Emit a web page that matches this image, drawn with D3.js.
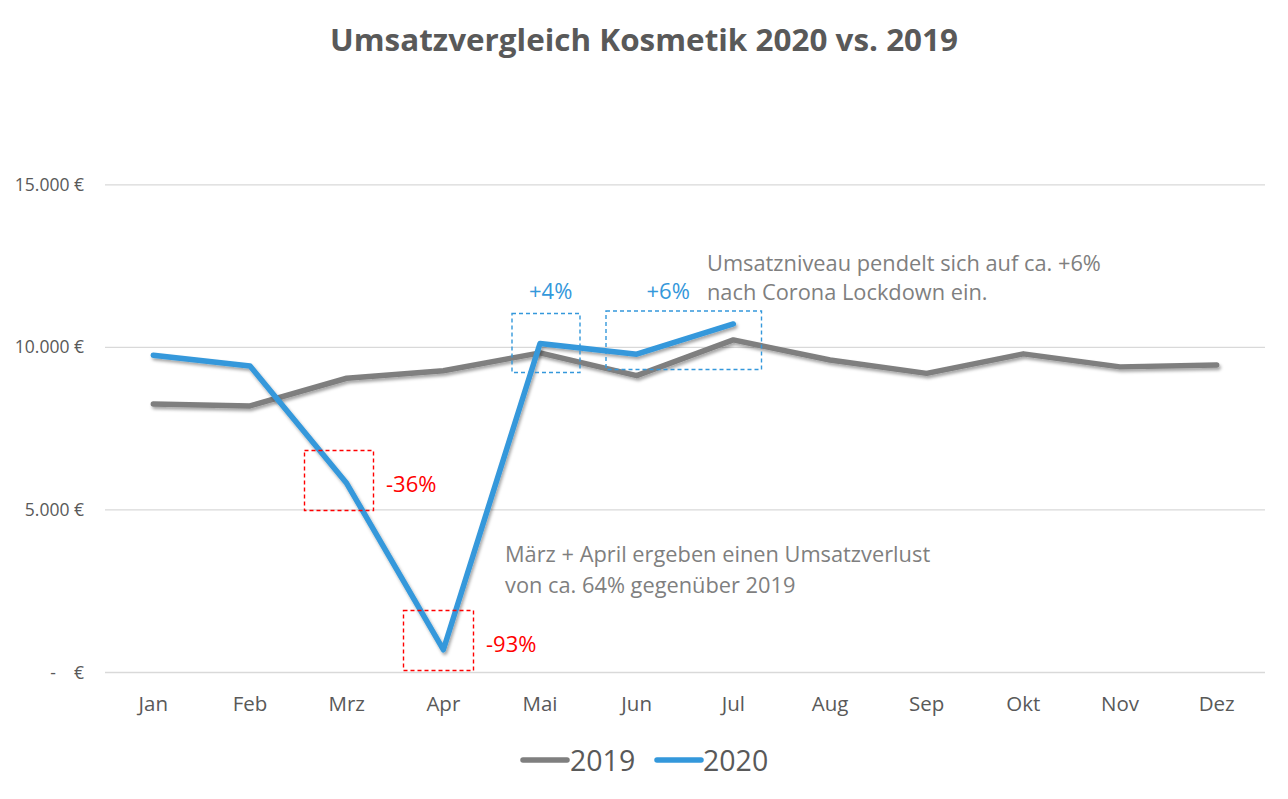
<!DOCTYPE html>
<html>
<head>
<meta charset="utf-8">
<script src="https://cdn.jsdelivr.net/npm/d3@7"></script>
<style>
  html, body { margin: 0; padding: 0; background: #ffffff; }
  svg { display: block; font-family: "Open Sans", "Noto Sans", sans-serif; }
</style>
</head>
<body>
<svg id="chart" width="1288" height="799"></svg>
<script>
// ---- data ----
const months = ["Jan","Feb","Mrz","Apr","Mai","Jun","Jul","Aug","Sep","Okt","Nov","Dez"];
const sales2019 = [8260, 8200, 9050, 9280, 9830, 9130, 10230, 9610, 9200, 9800, 9400, 9460];
const sales2020 = [9760, 9430, 5820, 700, 10120, 9790, 10720];
const yTicks = [0, 5000, 10000, 15000];
const seriesNames = ["2019", "2020"];
const titleText = "Umsatzvergleich Kosmetik 2020 vs. 2019";

// ---- layout ----
const W = 1288, H = 799;
const plot = { left: 105, right: 1265, top: 184.8, bottom: 672.5 };
const colors = { "2019": "#7f7f7f", "2020": "#3498db" };
const textGray = "#595959";

const svg = d3.select("#chart");
svg.append("rect").attr("width", W).attr("height", H).attr("fill", "#fff");

const defs = svg.append("defs");
const f = defs.append("filter").attr("id", "shadow")
  .attr("x", "-5%").attr("y", "-5%").attr("width", "110%").attr("height", "120%");
f.append("feDropShadow").attr("dx", 1.5).attr("dy", 2.5).attr("stdDeviation", 1.6)
  .attr("flood-color", "#000").attr("flood-opacity", 0.35);

const x = d3.scaleBand().domain(months).range([plot.left, plot.right]).padding(0);
const cx = m => x(m) + x.bandwidth() / 2;
const y = d3.scaleLinear().domain([0, 15000]).range([plot.bottom, plot.top]);

const loc = d3.formatLocale({ decimal: ",", thousands: ".", grouping: [3], currency: ["", " €"] });
const fmt = loc.format(",.0f");
const tickFmt = v => v === 0 ? "-    €" : fmt(v) + " €";

// title
svg.append("text")
  .attr("x", 644).attr("y", 51)
  .attr("text-anchor", "middle")
  .attr("font-size", 30).attr("font-weight", 700)
  .attr("fill", textGray)
  .attr("textLength", 628).attr("lengthAdjust", "spacingAndGlyphs")
  .text(titleText);

// gridlines
svg.append("g").selectAll("line").data(yTicks).join("line")
  .attr("x1", plot.left).attr("x2", plot.right)
  .attr("y1", d => y(d)).attr("y2", d => y(d))
  .attr("stroke", "#d9d9d9").attr("stroke-width", 1.3);

// y axis labels
const yAxis = svg.append("g")
  .attr("transform", `translate(${plot.left - 21},0)`)
  .call(d3.axisLeft(y).tickValues(yTicks).tickFormat(tickFmt).tickSize(0).tickPadding(0));
yAxis.select(".domain").remove();
yAxis.selectAll("text")
  .attr("font-family", "'Open Sans', sans-serif")
  .attr("font-size", 17.5).attr("fill", textGray)
  .style("white-space", "pre");

// x axis labels
const xAxis = svg.append("g")
  .attr("transform", `translate(0,${plot.bottom})`)
  .call(d3.axisBottom(x).tickSize(0).tickPadding(24));
xAxis.select(".domain").remove();
xAxis.selectAll("text")
  .attr("font-family", "'Open Sans', sans-serif")
  .attr("font-size", 20.5).attr("fill", textGray);

// lines
const line = d3.line().x((d, i) => cx(months[i])).y(d => y(d));
svg.append("path").datum(sales2019)
  .attr("d", line).attr("fill", "none")
  .attr("stroke", colors["2019"]).attr("stroke-width", 5.5)
  .attr("stroke-linecap", "round").attr("stroke-linejoin", "round")
  .attr("filter", "url(#shadow)");
svg.append("path").datum(sales2020)
  .attr("d", line).attr("fill", "none")
  .attr("stroke", colors["2020"]).attr("stroke-width", 5.5)
  .attr("stroke-linecap", "round").attr("stroke-linejoin", "round")
  .attr("filter", "url(#shadow)");

// annotation boxes
const boxes = [
  { x: 304.5, y: 450.5, w: 69, h: 60, c: "#ff0000" },
  { x: 403.5, y: 610.5, w: 70, h: 60, c: "#ff0000" },
  { x: 512, y: 313.5, w: 68, h: 59, c: colors["2020"] },
  { x: 606, y: 311, w: 155.5, h: 58.5, c: colors["2020"] }
];
svg.append("g").selectAll("rect").data(boxes).join("rect")
  .attr("x", d => d.x).attr("y", d => d.y).attr("width", d => d.w).attr("height", d => d.h)
  .attr("fill", "none").attr("stroke", d => d.c).attr("stroke-width", 1.4)
  .attr("stroke-dasharray", "4,3");

const labels = [
  { t: "-36%", x: 386, y: 492, c: "#ff0000" },
  { t: "-93%", x: 486, y: 652, c: "#ff0000" },
  { t: "+4%", x: 529, y: 298.5, c: colors["2020"] },
  { t: "+6%", x: 646.5, y: 298.5, c: colors["2020"] }
];
svg.append("g").selectAll("text").data(labels).join("text")
  .attr("x", d => d.x).attr("y", d => d.y).attr("fill", d => d.c)
  .attr("font-size", 22).text(d => d.t);

const notes = [
  { t: "Umsatzniveau pendelt sich auf ca. +6%", x: 707, y: 270.5 },
  { t: "nach Corona Lockdown ein.", x: 707, y: 300 },
  { t: "März + April ergeben einen Umsatzverlust", x: 505, y: 561.5 },
  { t: "von ca. 64% gegenüber 2019", x: 505, y: 593 }
];
svg.append("g").selectAll("text").data(notes).join("text")
  .attr("x", d => d.x).attr("y", d => d.y).attr("fill", "#7f7f7f")
  .attr("font-size", 21.8).text(d => d.t);

// legend
const legend = svg.append("g");
const legItems = [
  { n: seriesNames[0], lx: 523, tx: 570 },
  { n: seriesNames[1], lx: 657, tx: 703 }
];
legItems.forEach(it => {
  legend.append("line")
    .attr("x1", it.lx).attr("x2", it.lx + 44).attr("y1", 760).attr("y2", 760)
    .attr("stroke", colors[it.n]).attr("stroke-width", 5.5).attr("stroke-linecap", "round");
  legend.append("text").attr("x", it.tx).attr("y", 770.5)
    .attr("font-size", 28.5).attr("fill", textGray).text(it.n);
});
</script>
</body>
</html>
